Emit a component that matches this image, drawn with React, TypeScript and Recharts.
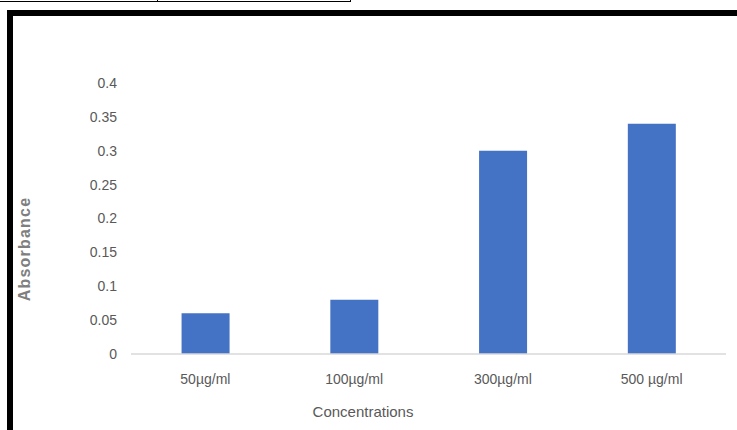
import { BarChart, Bar, XAxis, YAxis, Label } from 'recharts';

const concentrations = ['50µg/ml', '100µg/ml', '300µg/ml', '500 µg/ml'];
const absorbance = [0.06, 0.08, 0.3, 0.34];
const yTicks = [0, 0.05, 0.1, 0.15, 0.2, 0.25, 0.3, 0.35, 0.4];

const data = concentrations.map((name, i) => ({ name, value: absorbance[i] }));

const FONT = '"Liberation Sans", Arial, sans-serif';

export default function App() {
  return (
    <div style={{ position: 'fixed', left: 0, top: 0, width: 737, height: 430, background: '#fff', overflow: 'hidden' }}>
      {/* leftover of the caption box above the figure */}
      <div style={{ position: 'absolute', left: 0, top: 0, width: 350, height: 1, borderBottom: '1px solid #000', borderRight: '1px solid #000' }} />
      <div style={{ position: 'absolute', left: 157, top: 0, width: 1, height: 2, background: '#000' }} />
      {/* thick frame */}
      <div style={{ position: 'absolute', left: 7, top: 10, width: 760, height: 460, border: '6px solid #000', boxSizing: 'border-box' }} />
      <div style={{ position: 'absolute', left: 0, top: 0 }}>
        <BarChart
          width={737}
          height={430}
          data={data}
          margin={{ top: 83, right: 11, bottom: 0, left: 0 }}
          barCategoryGap="34%"
        >
          <XAxis
            dataKey="name"
            height={76}
            axisLine={{ stroke: '#d9d9d9', strokeWidth: 1.5 }}
            tickLine={false}
            tickMargin={14}
            tick={{ fill: '#595959', fontSize: 14, fontFamily: FONT }}
          >
            <Label
              content={() => (
                <text x={363} y={417} textAnchor="middle" fill="#595959" fontSize={15} fontFamily={FONT}>
                  Concentrations
                </text>
              )}
            />
          </XAxis>
          <YAxis
            width={131}
            domain={[0, 0.4]}
            ticks={yTicks}
            axisLine={false}
            tickLine={false}
            tickMargin={8}
            tick={{ fill: '#595959', fontSize: 14, fontFamily: FONT }}
          >
            <Label
              content={() => (
                <text
                  x={30}
                  y={249}
                  transform="rotate(-90 30 249)"
                  textAnchor="middle"
                  fill="#7f7f7f"
                  fontSize={16}
                  fontWeight="bold"
                  letterSpacing={1.2}
                  fontFamily={FONT}
                >
                  Absorbance
                </text>
              )}
            />
          </YAxis>
          <Bar dataKey="value" fill="#4472c4" isAnimationActive={false} />
        </BarChart>
      </div>
    </div>
  );
}
